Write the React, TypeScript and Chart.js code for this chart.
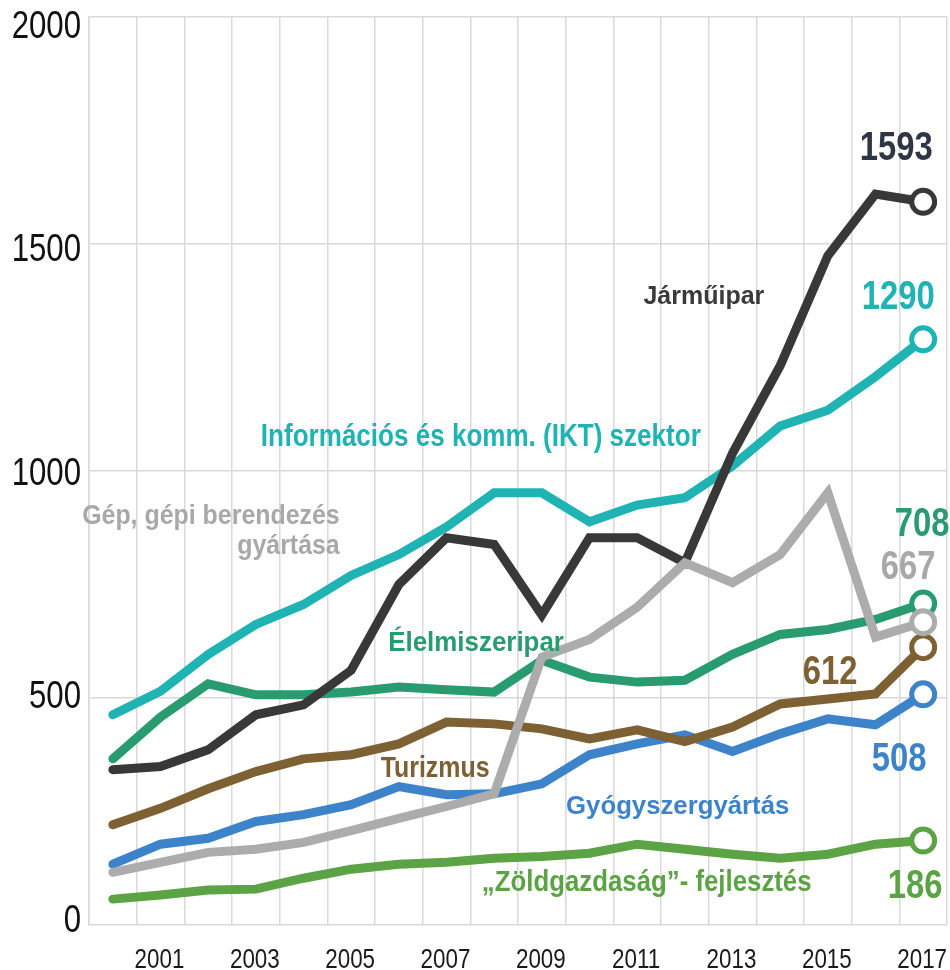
import React, { useEffect, useRef } from "react";
import { Chart, registerables } from "chart.js";

Chart.register(...registerables);

// ---------- data ----------
const years = [
  "2000", "2001", "2002", "2003", "2004", "2005", "2006", "2007", "2008",
  "2009", "2010", "2011", "2012", "2013", "2014", "2015", "2016", "2017",
];

const jarmuipar = [342, 349, 386, 463, 485, 561, 750, 853, 838, 683, 853, 853, 798, 1039, 1232, 1474, 1610, 1593];
const ikt = [463, 515, 596, 662, 706, 770, 816, 877, 952, 952, 888, 925, 941, 1011, 1099, 1134, 1208, 1290];
const elelmiszeripar = [366, 458, 531, 507, 507, 513, 524, 518, 513, 583, 546, 535, 539, 596, 640, 651, 673, 708];
const gep = [116, 138, 160, 167, 182, 208, 235, 261, 289, 590, 629, 700, 798, 754, 816, 952, 634, 667];
const turizmus = [221, 257, 300, 338, 366, 375, 399, 447, 443, 432, 410, 430, 404, 436, 487, 498, 509, 612];
const gyogyszer = [134, 178, 191, 228, 243, 265, 305, 287, 289, 311, 375, 399, 419, 382, 421, 454, 441, 508];
const zold = [57, 66, 77, 79, 103, 123, 134, 138, 147, 151, 158, 178, 167, 156, 147, 156, 178, 186];

const yTicks = [0, 500, 1000, 1500, 2000];
const xTickLabels = ["2001", "2003", "2005", "2007", "2009", "2011", "2013", "2015", "2017"];

const seriesNames = [
  "Gép, gépi berendezés gyártása",
  "Járműipar",
  "Információs és komm. (IKT) szektor",
  "Élelmiszeripar",
  "Turizmus",
  "Gyógyszergyártás",
  "„Zöldgazdaság”- fejlesztés",
];

// ---------- styles ----------
const COLORS = {
  gep: "#acacac",
  jarmu: "#383838",
  ikt: "#1fb3b3",
  elelm: "#289b70",
  turizmus: "#7d6132",
  gyogy: "#3d83ca",
  zold: "#5ba344",
};

const SANS = '"Liberation Sans", Arial, sans-serif';

const seriesList = [
  { name: seriesNames[0], data: gep, color: COLORS.gep },
  { name: seriesNames[1], data: jarmuipar, color: COLORS.jarmu },
  { name: seriesNames[2], data: ikt, color: COLORS.ikt },
  { name: seriesNames[3], data: elelmiszeripar, color: COLORS.elelm },
  { name: seriesNames[4], data: turizmus, color: COLORS.turizmus },
  { name: seriesNames[5], data: gyogyszer, color: COLORS.gyogy },
  { name: seriesNames[6], data: zold, color: COLORS.zold },
];

// series name labels: anchored in data coordinates (fractional category index, value), alphabetic baseline
const nameLabels = [
  { text: "Járműipar", x: 12.4, y: 1368, color: "#3a3a3a", size: 25, sx: 1.0, align: "center" },
  { text: "Információs és komm. (IKT) szektor", x: 7.72, y: 1055, color: COLORS.ikt, size: 31, sx: 0.84, align: "center" },
  { text: "Gép, gépi berendezés", x: 4.76, y: 883, color: "#a8a8a8", size: 28, sx: 0.89, align: "right" },
  { text: "gyártása", x: 4.76, y: 817, color: "#a8a8a8", size: 28, sx: 0.89, align: "right" },
  { text: "Élelmiszeripar", x: 7.62, y: 604, color: COLORS.elelm, size: 27, sx: 0.96, align: "center" },
  { text: "Turizmus", x: 6.76, y: 326, color: COLORS.turizmus, size: 30, sx: 0.83, align: "center" },
  { text: "Gyógyszergyártás", x: 11.85, y: 244, color: COLORS.gyogy, size: 26, sx: 0.99, align: "center" },
  { text: "„Zöldgazdaság”- fejlesztés", x: 11.2, y: 75, color: COLORS.zold, size: 30, sx: 0.86, align: "center" },
];

// end value labels: pixel offsets (center x, baseline y) from the last point
const endLabels = [
  { series: 1, dx: -27, dy: -42, color: "#2e3545" },
  { series: 2, dx: -25, dy: -30, color: COLORS.ikt },
  { series: 3, dx: -1, dy: -68, color: COLORS.elelm },
  { series: 0, dx: -15, dy: -43, color: "#a8a8a8" },
  { series: 4, dx: -93, dy: 37, color: COLORS.turizmus },
  { series: 5, dx: -24, dy: 77, color: COLORS.gyogy },
  { series: 6, dx: -8, dy: 57, color: COLORS.zold },
];

const drawText = (
  ctx: CanvasRenderingContext2D,
  text: string,
  px: number,
  py: number,
  color: string,
  font: string,
  sx: number,
  align: CanvasTextAlign,
  baseline: CanvasTextBaseline = "alphabetic"
) => {
  ctx.save();
  ctx.translate(px, py);
  ctx.scale(sx, 1);
  ctx.font = font;
  ctx.fillStyle = color;
  ctx.textAlign = align;
  ctx.textBaseline = baseline;
  ctx.fillText(text, 0, 0);
  ctx.restore();
};

// axis tick labels (condensed), drawn from the library's own scale ticks
const tickLabelPlugin = {
  id: "condensedTicks",
  afterDraw(chart: any) {
    const { ctx } = chart;
    const xs = chart.scales.x;
    const ys = chart.scales.y;
    ys.ticks.forEach((t: any, i: number) => {
      const py = ys.getPixelForTick(i);
      const off = -3.5 + 14 * (t.value / yTicks[yTicks.length - 1]);
      drawText(ctx, String(t.value), ys.right - 8, py + off, "#111111", `38px ${SANS}`, 0.82, "right", "middle");
    });
    years.forEach((yr, i) => {
      if (!xTickLabels.includes(yr)) return;
      const px = xs.getPixelForValue(i);
      drawText(ctx, yr, px - 1, xs.top + 43, "#1a1a1a", `28px ${SANS}`, 0.8, "center", "alphabetic");
    });
  },
};

const labelPlugin = {
  id: "textLabels",
  afterDatasetsDraw(chart: any) {
    const { ctx } = chart;
    const xs = chart.scales.x;
    const ys = chart.scales.y;
    nameLabels.forEach((l) => {
      drawText(ctx, l.text, xs.getPixelForValue(l.x), ys.getPixelForValue(l.y), l.color, `bold ${l.size}px ${SANS}`, l.sx, l.align as CanvasTextAlign);
    });
    endLabels.forEach((l) => {
      const d = seriesList[l.series].data;
      const last = d.length - 1;
      const px = xs.getPixelForValue(last);
      const py = ys.getPixelForValue(d[last]);
      drawText(ctx, String(d[last]), px + l.dx, py + l.dy, l.color, `bold 40px ${SANS}`, 0.82, "center");
    });
  },
};

export default function App() {
  const ref = useRef<HTMLCanvasElement>(null);
  useEffect(() => {
    const n = years.length;
    const datasets = seriesList.map((s) => ({
      label: s.name,
      data: s.data,
      borderColor: s.color,
      backgroundColor: s.color,
      borderWidth: 9,
      tension: 0,
      borderCapStyle: "round",
      borderJoinStyle: "miter",
      pointRadius: s.data.map((_, i) => (i === n - 1 ? 11.5 : 0)),
      pointHoverRadius: s.data.map((_, i) => (i === n - 1 ? 11.5 : 0)),
      pointBorderWidth: 5,
      pointBorderColor: s.color,
      pointBackgroundColor: "#ffffff",
      fill: false,
      clip: false,
    }));
    const chart = new Chart(ref.current as HTMLCanvasElement, {
      type: "line",
      data: { labels: years, datasets } as any,
      plugins: [labelPlugin as any, tickLabelPlugin as any],
      options: {
        responsive: false,
        maintainAspectRatio: false,
        animation: false,
        devicePixelRatio: 1,
        layout: { autoPadding: false, padding: { top: 17, right: 3, left: 0, bottom: 0 } },
        plugins: { legend: { display: false }, tooltip: { enabled: false } },
        scales: {
          x: {
            type: "category",
            offset: true,
            grid: { offset: true, color: "#d9d9d9", lineWidth: 1.5, drawTicks: false },
            border: { display: false },
            ticks: { display: false, autoSkip: false },
            afterFit: (s: any) => {
              s.height = 45;
            },
          },
          y: {
            min: yTicks[0],
            max: yTicks[yTicks.length - 1],
            afterBuildTicks: (s: any) => {
              s.ticks = yTicks.map((v) => ({ value: v }));
            },
            grid: { color: "#d9d9d9", lineWidth: 1.5, drawTicks: false },
            border: { display: true, color: "#d9d9d9", width: 1.5 },
            ticks: { display: false },
            afterFit: (s: any) => {
              s.width = 89;
            },
          },
        },
      } as any,
    });
    return () => chart.destroy();
  }, []);
  return (
    <div style={{ position: "absolute", left: 0, top: 0, width: 950, height: 970, overflow: "hidden" }}>
      <canvas ref={ref} width={950} height={970} style={{ display: "block", width: 950, height: 970 }} />
    </div>
  );
}
